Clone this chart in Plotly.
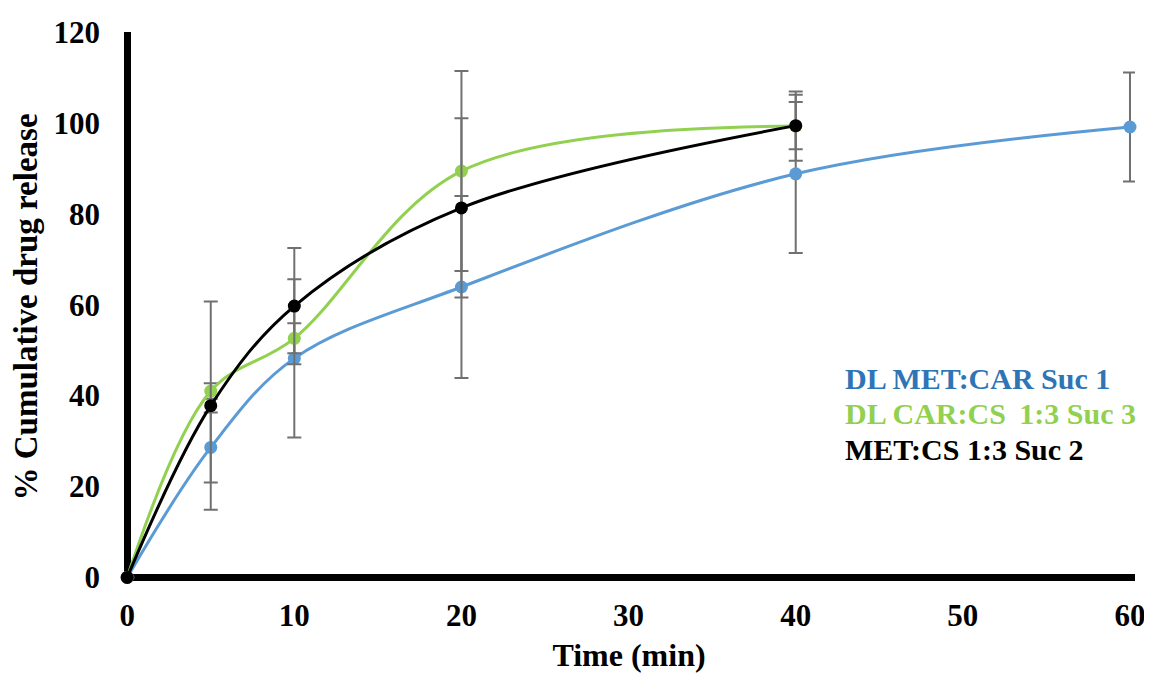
import plotly.graph_objects as go

# ---- data ----
time_blue = [0, 5, 10, 20, 40, 60]
release_blue = [0, 28.6, 48.2, 63.9, 88.8, 99.1]
err_blue = [0, 7.7, 17.4, 20.0, 17.4, 12.0]

time_green = [0, 5, 10, 20, 40]
release_green = [0, 41.0, 52.6, 89.4, 99.3]
err_green = [0, 1.7, 3.3, 22.0, 7.6]

time_black = [0, 5, 10, 20, 40]
release_black = [0, 37.8, 59.7, 81.3, 99.4]
err_black = [0, 22.9, 12.8, 19.7, 5.2]

series_names = ["DL MET:CAR Suc 1", "DL CAR:CS\u2009 1:3 Suc 3", "MET:CS 1:3 Suc 2"]
line_colors = ["#5B9BD5", "#92D050", "#000000"]
text_colors = ["#2E75B6", "#92D050", "#000000"]

x_ticks = [0, 10, 20, 30, 40, 50, 60]
y_ticks = [0, 20, 40, 60, 80, 100, 120]

FONT = "Liberation Serif, Times New Roman, serif"

fig = go.Figure()
for xs, ys, es, col, name in [
    (time_blue, release_blue, err_blue, line_colors[0], series_names[0]),
    (time_green, release_green, err_green, line_colors[1], series_names[1]),
    (time_black, release_black, err_black, line_colors[2], series_names[2]),
]:
    fig.add_trace(go.Scatter(
        x=xs, y=ys, name=name, mode="lines+markers",
        line=dict(color=col, width=3, shape="spline", smoothing=1),
        marker=dict(color=col, size=13),
        error_y=dict(type="data", array=es, visible=True, color="#707070",
                     thickness=2, width=7),
        cliponaxis=False,
        showlegend=False,
    ))

# page body has an 8px margin; figure is sized to fill the rest of the window
OFF = 8
FIG_W, FIG_H = 1152 - OFF, 673 - OFF

# plot-area geometry (target pixel positions in the window)
x_lo, x_hi = -0.25, 60.3
y_lo, y_hi = -1.0, 120.0
px0, px60 = 127 - OFF, 1130 - OFF
py0, py120 = 577 - OFF, 32 - OFF
W = (px60 - px0) * (x_hi - x_lo) / 60.0
l = px0 - (0 - x_lo) * W / (x_hi - x_lo)
r = FIG_W - l - W
H = (py0 - py120) * (y_hi - y_lo) / 120.0
t = py120
b = FIG_H - (t + H)

# legend as coloured text
leg_left_px = 843 - OFF
leg_center_px = [378 - OFF, 413 - OFF, 449 - OFF]
for name, col, py in zip(series_names, text_colors, leg_center_px):
    fig.add_annotation(xref="paper", yref="paper",
                       x=(leg_left_px - l) / W, y=(t + H - py) / H,
                       xanchor="left", yanchor="middle", showarrow=False,
                       text=name,
                       font=dict(family=FONT, size=30, color=col, weight="bold"))

fig.update_layout(
    width=FIG_W, height=FIG_H,
    paper_bgcolor="white", plot_bgcolor="white",
    margin=dict(l=l, r=r, t=t, b=b, pad=0, autoexpand=False),
    font=dict(family=FONT, color="black"),
    xaxis=dict(
        range=[x_lo, x_hi], tickvals=x_ticks, showgrid=False, automargin=False,
        showline=False, zeroline=True, zerolinecolor="black", zerolinewidth=7,
        ticks="", ticklabelstandoff=12,
        tickfont=dict(family=FONT, size=31, color="black", weight="bold"),
        title=dict(text="Time (min)", standoff=16,
                   font=dict(family=FONT, size=32, color="black", weight="bold")),
    ),
    yaxis=dict(
        range=[y_lo, y_hi], tickvals=y_ticks, showgrid=False, automargin=False,
        showline=False, zeroline=True, zerolinecolor="black", zerolinewidth=7,
        ticks="", ticklabelstandoff=22,
        tickfont=dict(family=FONT, size=31, color="black", weight="bold"),
        title=dict(text="% Cumulative drug release", standoff=8,
                   font=dict(family=FONT, size=33, color="black", weight="bold")),
    ),
)

fig.write_html("out.html")
